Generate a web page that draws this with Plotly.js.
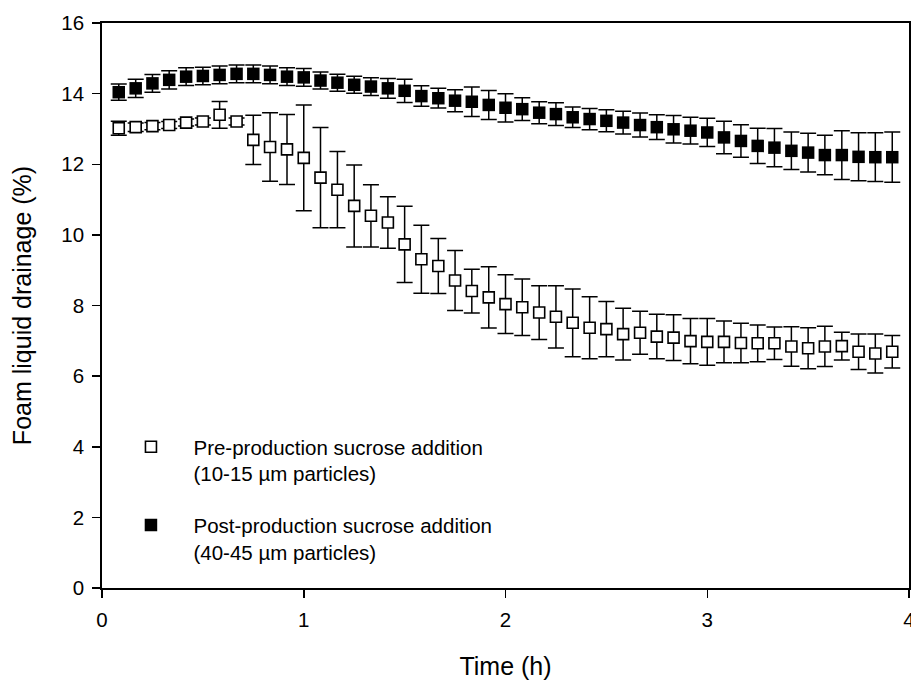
<!DOCTYPE html>
<html>
<head>
<meta charset="utf-8">
<script src="https://cdn.plot.ly/plotly-3.0.1.min.js"></script>
<style>html,body{margin:0;padding:0;background:#fff;}#chart{width:911px;height:680px;}</style>
</head>
<body>
<div id="chart"></div>
<script>
const timeH = [0.083,0.167,0.250,0.333,0.417,0.500,0.583,0.667,0.750,0.833,0.917,1.000,1.083,1.167,1.250,1.333,1.417,1.500,1.583,1.667,1.750,1.833,1.917,2.000,2.083,2.167,2.250,2.333,2.417,2.500,2.583,2.667,2.750,2.833,2.917,3.000,3.083,3.167,3.250,3.333,3.417,3.500,3.583,3.667,3.750,3.833,3.917];

const preName = "Pre-production sucrose addition<br>(10-15 µm particles)";
const preMean = [13.02,13.05,13.08,13.11,13.18,13.21,13.40,13.21,12.69,12.49,12.42,12.18,11.62,11.28,10.82,10.54,10.35,9.73,9.31,9.12,8.71,8.41,8.23,8.04,7.95,7.80,7.68,7.51,7.37,7.33,7.19,7.23,7.12,7.09,6.99,6.97,6.97,6.94,6.93,6.93,6.84,6.79,6.84,6.85,6.69,6.64,6.69];
const preErr = [0.20,0.12,0.10,0.10,0.10,0.10,0.38,0.10,0.70,0.97,0.99,1.50,1.42,1.08,1.16,0.88,0.73,1.08,0.96,0.78,0.85,0.62,0.87,0.83,0.80,0.76,0.88,0.96,0.88,0.78,0.73,0.61,0.63,0.65,0.64,0.66,0.59,0.56,0.52,0.46,0.56,0.58,0.57,0.39,0.50,0.55,0.46];

const postName = "Post-production sucrose addition<br>(40-45 µm particles)";
const postMean = [14.04,14.15,14.29,14.39,14.48,14.50,14.53,14.56,14.56,14.53,14.48,14.46,14.37,14.31,14.25,14.20,14.15,14.08,13.93,13.87,13.80,13.77,13.68,13.60,13.56,13.46,13.42,13.33,13.28,13.23,13.18,13.11,13.05,12.99,12.95,12.90,12.76,12.66,12.52,12.47,12.38,12.33,12.26,12.26,12.21,12.20,12.20];
const postErr = [0.23,0.26,0.25,0.26,0.25,0.25,0.25,0.25,0.25,0.25,0.25,0.25,0.24,0.24,0.24,0.25,0.28,0.33,0.29,0.28,0.31,0.42,0.41,0.40,0.32,0.31,0.32,0.29,0.30,0.31,0.32,0.34,0.35,0.39,0.38,0.40,0.46,0.46,0.50,0.54,0.53,0.55,0.56,0.69,0.68,0.69,0.71];

const xTicks = [0,1,2,3,4];
const yTicks = [0,2,4,6,8,10,12,14,16];
const xTitle = "Time (h)";
const yTitle = "Foam liquid drainage (%)";

const FONT = "Liberation Sans, Arial, sans-serif";

const traces = [
  {
    x: timeH, y: preMean, name: preName, type: 'scatter', mode: 'markers',
    legendgroup: 'a',
    marker: {symbol: 'square', size: 11, color: '#fff', line: {width: 1.6, color: '#000'}},
    error_y: {type: 'data', array: preErr, visible: true, color: '#000', thickness: 1.5, width: 8}
  },
  {
    x: timeH, y: postMean, name: postName, type: 'scatter', mode: 'markers',
    legendgroup: 'b',
    marker: {symbol: 'square', size: 12.5, color: '#000', line: {width: 0}},
    error_y: {type: 'data', array: postErr, visible: true, color: '#000', thickness: 1.5, width: 8}
  }
];

const layout = {
  width: 911, height: 680,
  margin: {l: 102, r: 2, t: 23, b: 92, pad: 0},
  paper_bgcolor: '#fff', plot_bgcolor: '#fff',
  font: {family: FONT, size: 20, color: '#000'},
  showlegend: true,
  legend: {
    x: 0.008, y: 0.285, xanchor: 'left', yanchor: 'top',
    traceorder: 'grouped', tracegroupgap: 22, valign: 'top',
    itemwidth: 75, font: {family: FONT, size: 20.5, color: '#000'},
    bgcolor: 'rgba(0,0,0,0)', borderwidth: 0
  },
  xaxis: {
    range: [0, 4], tickvals: xTicks, ticktext: xTicks.map(String),
    showgrid: false, zeroline: false,
    showline: true, linecolor: '#000', linewidth: 1.8, mirror: true,
    ticks: 'outside', ticklen: 8, tickwidth: 1.5, tickcolor: '#000',
    ticklabeloverflow: 'allow', ticklabelstandoff: 5,
    tickfont: {family: FONT, size: 20.5, color: '#000'},
    title: {text: xTitle, font: {family: FONT, size: 25, color: '#000'}, standoff: 27}
  },
  yaxis: {
    range: [0, 16], tickvals: yTicks, ticktext: yTicks.map(String),
    showgrid: false, zeroline: false,
    showline: true, linecolor: '#000', linewidth: 1.8, mirror: true,
    ticks: 'outside', ticklen: 8, tickwidth: 1.5, tickcolor: '#000',
    ticklabelstandoff: 4,
    tickfont: {family: FONT, size: 20.5, color: '#000'},
    title: {text: yTitle, font: {family: FONT, size: 25, color: '#000'}, standoff: 22}
  }
};

Plotly.newPlot('chart', traces, layout, {displayModeBar: false, staticPlot: true});
</script>
</body>
</html>
